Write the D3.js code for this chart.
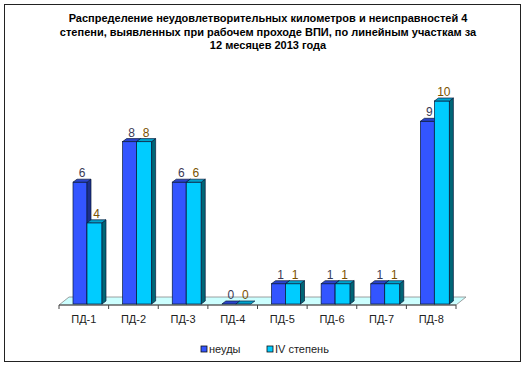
<!DOCTYPE html>
<html><head><meta charset="utf-8">
<script src="https://cdn.jsdelivr.net/npm/d3@7"></script>
<style>body{margin:0;background:#fff}svg{display:block;font-family:"Liberation Sans",Arial,sans-serif}</style>
</head><body><svg id="c" width="525" height="366"></svg>
<script>
const categories = ["ПД-1","ПД-2","ПД-3","ПД-4","ПД-5","ПД-6","ПД-7","ПД-8"];
const neudy = [6,8,6,0,1,1,1,9];
const stepen4 = [4,8,6,0,1,1,1,10];
const seriesNames = ["неуды","IV степень"];
const titleLines = ["Распределение неудовлетворительных километров и неисправностей 4","степени, выявленных при рабочем проходе ВПИ, по линейным участкам за","12 месяцев 2013 года"];

const svg = d3.select("#c");
svg.append("rect").attr("x",4.5).attr("y",4.5).attr("width",516).attr("height",357).attr("fill","#fff").attr("stroke","#222").attr("stroke-width",1);

svg.selectAll("text.title").data(titleLines).join("text").attr("class","title")
  .attr("x",268).attr("y",(d,i)=>22+i*13.5).attr("text-anchor","middle")
  .attr("font-size",11).attr("font-weight","bold").text(d=>d);

const x = d3.scaleBand().domain(categories).range([59,456]).paddingInner(0).paddingOuter(0);
const y = d3.scaleLinear().domain([0,10]).range([304,101]);
const DX = 10, DY = -8; // floor depth
const dx = 4, dy = -3;  // bar depth

// floor
const fy = 305;
svg.append("path").attr("d",`M59,${fy} L456,${fy} L${456+DX},${fy+DY} L${59+DX},${fy+DY} Z`)
  .attr("fill","#ccffff").attr("stroke","#888").attr("stroke-width",0.8);
// axis line & ticks
svg.append("line").attr("x1",59).attr("x2",456).attr("y1",fy).attr("y2",fy).attr("stroke","#444");
const bounds = categories.map(c=>x(c)).concat([456]);
svg.selectAll("line.tk").data(bounds).join("line").attr("class","tk")
  .attr("x1",d=>d).attr("x2",d=>d).attr("y1",fy).attr("y2",fy+4).attr("stroke","#444");
const ax = svg.append("g").attr("transform",`translate(0,${fy+5})`).call(d3.axisBottom(x).tickSize(0));
ax.select(".domain").remove();
ax.selectAll("text").attr("font-size",11).attr("font-family","Liberation Sans, Arial").attr("fill","#222").attr("dy","0.9em");

const series = [
  {name:seriesNames[0], vals:neudy, off:14, w:14, front:"#3355ff", top:"#2a44cc", side:"#1c2f8c", lbl:"#3a3a55"},
  {name:seriesNames[1], vals:stepen4, off:28, w:15, front:"#00ccff", top:"#00a3cc", side:"#006677", lbl:"#7a5200"}
];
const base = y(0);
series.forEach((s,si)=>{
  const g = svg.append("g");
  categories.forEach((c,i)=>{
    const v = s.vals[i];
    const x0 = x(c)+s.off, x1 = x0+s.w, yt = y(v);
    if (v>0){
      g.append("rect").attr("x",x0).attr("y",yt).attr("width",s.w).attr("height",base-yt)
        .attr("fill",s.front).attr("stroke","#0a1a3a").attr("stroke-width",0.7);
      g.append("path").attr("d",`M${x1},${yt} L${x1+dx},${yt+dy} L${x1+dx},${base+dy} L${x1},${base} Z`)
        .attr("fill",s.side).attr("stroke","#0a1a3a").attr("stroke-width",0.7);
    }
    g.append("path").attr("d",`M${x0},${yt} L${x1},${yt} L${x1+dx},${yt+dy} L${x0+dx},${yt+dy} Z`)
      .attr("fill",s.top).attr("stroke","#0a1a3a").attr("stroke-width",0.7);
  });
  svg.selectAll(null).data(s.vals).join("text")
    .attr("x",(d,i)=>x(categories[i])+s.off+s.w/2+dx/2)
    .attr("y",d=>y(d)+dy-2).attr("text-anchor","middle").attr("font-size",12)
    .attr("fill",s.lbl).text(d=>d);
});

// legend
const lg = svg.append("g");
const lx = [201,267];
series.forEach((s,i)=>{
  lg.append("rect").attr("x",lx[i]).attr("y",346).attr("width",6).attr("height",6)
    .attr("fill",s.front).attr("stroke","#111").attr("stroke-width",0.8);
  lg.append("text").attr("x",lx[i]+8).attr("y",353).attr("font-size",11).attr("fill","#222").text(s.name);
});
</script></body></html>
